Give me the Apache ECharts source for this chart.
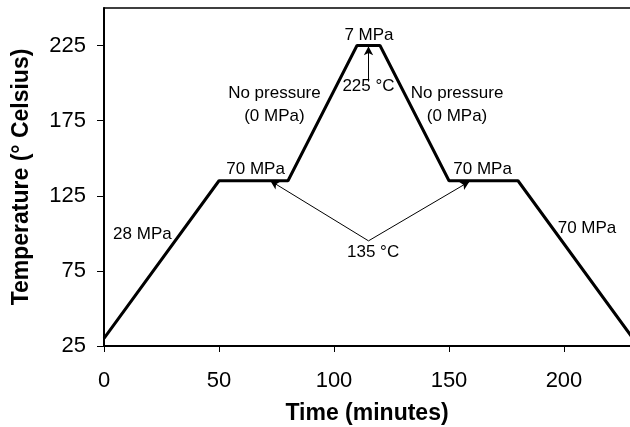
<!DOCTYPE html>
<html>
<head>
<meta charset="utf-8">
<script src="https://cdn.jsdelivr.net/npm/echarts@6/dist/echarts.min.js"></script>
<style>
  html, body { margin: 0; padding: 0; background: #fff; }
  #demo { width: 630px; height: 427px; }
</style>
</head>
<body>
<div id="demo"></div>
<script>
// temperature profile (time in minutes, temperature in °C)
var timeData = [0, 50, 80, 110, 120, 150, 180, 230];
var tempData = [30, 135, 135, 225, 225, 135, 135, 30];

var xTicks = [0, 50, 100, 150, 200];
var yTicks = [25, 75, 125, 175, 225];

// text labels
var noteText = ['28 MPa', '70 MPa', 'No pressure\n(0 MPa)', '7 MPa', '225 °C', 'No pressure\n(0 MPa)', '70 MPa', '70 MPa', '135 °C'];
var noteX = [16.7, 65.9, 74.1, 115.2, 115, 153.5, 164.6, 210, 117];
var noteY = [99.5, 142.8, 185.8, 231.5, 198, 185.8, 142.8, 103.5, 87.5];

// arrows [fromX, fromY, toX, toY]
var arrowFrom = [[115, 201], [115, 95], [115, 95]];
var arrowTo = [[115, 224.5], [72.3, 135], [158.9, 134.5]];

var lineData = [];
for (var i = 0; i < timeData.length; i++) {
    lineData.push([timeData[i], tempData[i]]);
}
var noteData = [];
for (var j = 0; j < noteText.length; j++) {
    noteData.push({ value: [noteX[j], noteY[j]], label: { formatter: noteText[j] } });
}
var arrowData = [];
for (var k = 0; k < arrowFrom.length; k++) {
    arrowData.push([{ coord: arrowFrom[k] }, { coord: arrowTo[k] }]);
}

var fontName = '"Liberation Sans", Arial, sans-serif';

var mychar = echarts.init(document.getElementById('demo'));
mychar.setOption({
    animation: false,
    grid: { left: 104, top: 8, right: 0, bottom: 81, outerBoundsMode: 'none', containLabel: false },
    xAxis: [{
        type: 'value',
        min: 0,
        max: 228.7,
        name: 'Time (minutes)',
        nameLocation: 'middle',
        nameGap: 56,
        nameTextStyle: { fontFamily: fontName, fontSize: 23, fontWeight: 'bold', color: '#000' },
        axisLine: { show: true, lineStyle: { color: '#000', width: 2 } },
        axisTick: { show: true, inside: false, length: 6, customValues: xTicks, lineStyle: { color: '#000', width: 1 } },
        axisLabel: { customValues: xTicks, margin: 24, fontFamily: fontName, fontSize: 22, color: '#000' },
        splitLine: { show: false }
    }, {
        type: 'value',
        position: 'top',
        min: 0,
        max: 228.7,
        axisLine: { show: true, onZero: false, lineStyle: { color: '#000', width: 1.5 } },
        axisTick: { show: false },
        axisLabel: { show: false },
        splitLine: { show: false }
    }],
    yAxis: {
        type: 'value',
        min: 25,
        max: 250,
        name: 'Temperature (° Celsius)',
        nameLocation: 'middle',
        nameGap: 71,
        nameTextStyle: { fontFamily: fontName, fontSize: 23, fontWeight: 'bold', color: '#000' },
        axisLine: { show: true, onZero: false, lineStyle: { color: '#000', width: 2 } },
        axisTick: { show: true, inside: false, length: 7, customValues: yTicks, lineStyle: { color: '#000', width: 1 } },
        axisLabel: { customValues: yTicks, margin: 18, fontFamily: fontName, fontSize: 22, color: '#000' },
        splitLine: { show: false }
    },
    series: [{
        type: 'line',
        data: lineData,
        symbol: 'none',
        lineStyle: { color: '#000', width: 3 },
        markLine: {
            silent: true,
            symbol: ['none', 'arrow'],
            symbolSize: [7, 9],
            label: { show: false },
            lineStyle: { color: '#000', width: 1, type: 'solid' },
            data: arrowData
        }
    }, {
        type: 'scatter',
        data: noteData,
        symbolSize: 0,
        silent: true,
        itemStyle: { color: '#000', opacity: 1 },
        label: {
            show: true,
            position: 'inside',
            fontFamily: fontName,
            fontSize: 17,
            lineHeight: 23,
            color: '#000',
            textBorderWidth: 0,
            textBorderColor: 'transparent',
            align: 'center',
            verticalAlign: 'middle'
        }
    }]
});
</script>
</body>
</html>
